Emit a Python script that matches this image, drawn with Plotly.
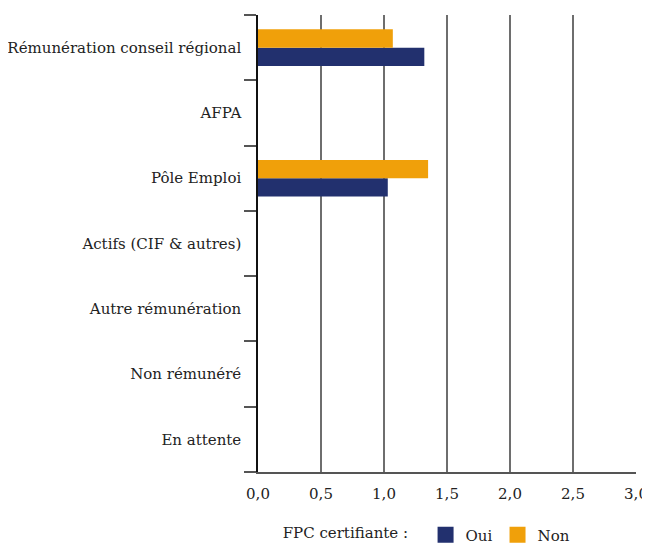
import plotly.graph_objects as go

categories = ["Rémunération conseil régional", "AFPA", "Pôle Emploi",
              "Actifs (CIF & autres)", "Autre rémunération", "Non rémunéré", "En attente"]
oui = [1.32, None, 1.03, None, None, None, None]
non = [1.07, None, 1.35, None, None, None, None]
tick_vals = [0, 0.5, 1.0, 1.5, 2.0, 2.5, 3.0]
tick_text = ["0,0", "0,5", "1,0", "1,5", "2,0", "2,5", "3,0"]

FONT = "DejaVu Serif"
C_OUI = "#22306e"
C_NON = "#f0a00a"

fig = go.Figure()
fig.add_trace(go.Bar(y=categories, x=oui, name="Oui", orientation="h", showlegend=False,
                     marker=dict(color=C_OUI, line=dict(width=0))))
fig.add_trace(go.Bar(y=categories, x=non, name="Non", orientation="h", showlegend=False,
                     marker=dict(color=C_NON, line=dict(width=0))))
# legend keys
for name, col in [("Oui", C_OUI), ("Non", C_NON)]:
    fig.add_trace(go.Scatter(x=[None], y=[None], mode="markers", name=name,
                             marker=dict(symbol="square", size=22, color=col),
                             showlegend=True))

fig.update_layout(
    width=642, height=538,
    barmode="group", bargap=0.44, bargroupgap=0,
    plot_bgcolor="white", paper_bgcolor="white",
    font=dict(family=FONT, size=15, color="#222"),
    margin=dict(l=250, r=14, t=7, b=74, autoexpand=False),
    xaxis=dict(range=[0, 3.0], tickvals=tick_vals, ticktext=tick_text,
               showgrid=True, gridcolor="#6e6e6e", gridwidth=1.5,
               zeroline=False, showline=True, linecolor="#555", linewidth=1.5,
               ticks="", ticklabelstandoff=7, fixedrange=True, automargin=False),
    yaxis=dict(categoryorder="array", categoryarray=categories[::-1],
               showline=True, linecolor="#111", linewidth=1.5,
               ticks="outside", ticklen=12, tickwidth=1.5, tickcolor="#555",
               tickson="boundaries", showgrid=False, ticklabelstandoff=12,
               automargin=False),
    legend=dict(orientation="h", x=0.06, xanchor="left", y=-0.138, yanchor="middle",
                title=dict(text="FPC certifiante :  ", font=dict(size=15)),
                font=dict(size=15), itemwidth=30, itemsizing="trace"),
)

fig.write_html("out.html")
